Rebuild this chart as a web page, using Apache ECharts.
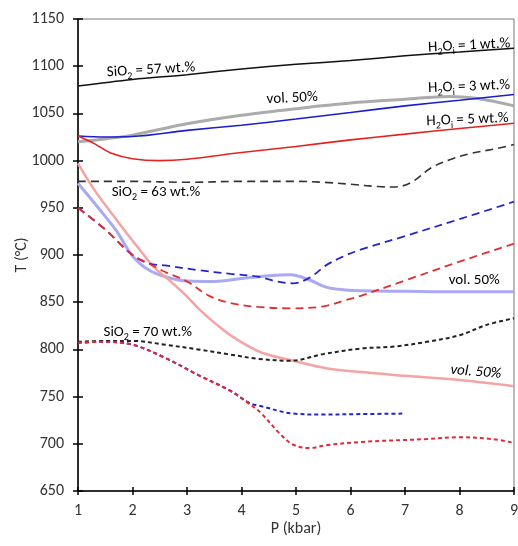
<!DOCTYPE html>
<html>
<head>
<meta charset="utf-8">
<script src="https://cdn.jsdelivr.net/npm/echarts@6/dist/echarts.min.js"></script>
<style>
  html, body { margin: 0; padding: 0; background: #fff; }
  #main { width: 518px; height: 546px; }
</style>
</head>
<body>
<div id="main"></div>
<script>
// P (kbar) vs T (°C)
var h2o1 = [[1,1079],[2,1086],[3,1091],[4,1097],[5,1102],[6,1106],[7,1111],[8,1115],[9,1119]];
var gray50 = [[1,1020],[1.5,1023],[2,1027],[3,1039],[4,1048],[5,1055],[6,1061],[7,1065],[7.8,1068],[8.3,1066],[9,1058]];
var h2o3 = [[1,1026],[1.5,1025],[2,1025.5],[3,1032],[4,1037.5],[5,1044],[6,1051],[7,1058],[8,1064],[9,1070]];
var h2o5 = [[1,1026],[1.3,1018],[1.6,1008],[2,1002],[2.5,1000],[3,1001.5],[4,1008.5],[5,1015],[6,1022],[7,1028],[8,1034],[9,1039.5]];
var sio63 = [[1,978],[2,978],[3,977],[4,978],[5,978],[5.5,977],[6,975],[6.5,972.5],[6.8,972],[7.1,976.5],[7.5,993],[7.9,1002.5],[8.2,1007.5],[8.7,1013],[9,1017]];
var blue50 = [[1,976],[1.4,948],[1.7,926],[2,899],[2.3,884],[2.6,877],[3,872.5],[3.5,872],[4,875],[4.5,878],[4.9,879],[5.25,873.5],[5.55,866],[5.9,863],[6.2,862],[7,861.5],[8,861],[9,861]];
var red50 = [[1,997],[1.3,969],[1.75,934],[2.1,908],[2.4,887],[2.7,872],[3,856],[3.25,841],[3.55,826],[3.85,813],[4.35,797],[4.95,788],[5.55,780],[6.2,776],[6.8,773],[8,767.5],[9,761]];
var blueDash = [[1,950],[1.5,927],[2,900],[2.3,891],[2.6,889],[3.2,884],[3.8,880],[4.3,877],[4.65,872],[4.95,870],[5.25,876],[5.55,889],[5.85,898],[6.2,906],[7,920],[8,938],[9,956.5]];
var redDash = [[1,950],[1.5,927],[2,900],[2.3,891],[2.6,882],[3,872],[3.4,857],[3.8,849],[4.3,845],[4.9,843.5],[5.5,845.5],[5.9,852],[6.2,857],[7,873],[8,893],[9,912]];
var sio70 = [[1,808],[1.5,809],[2,809],[2.6,805],[3.2,800],[3.8,794.5],[4.3,790],[4.9,788],[5.5,795],[6.2,801],[6.8,803],[7.4,808],[8,815],[8.5,826],[9,833]];
var blueDot = [[1,807],[1.4,808],[2,805],[2.6,791],[3.2,773],[3.8,756],[4.15,743],[4.35,740],[4.95,732],[5.5,731],[6.2,731.5],[6.95,732]];
var redDot = [[1,807],[1.4,808],[2,805],[2.6,791],[3.2,773],[3.8,756],[4.15,742],[4.35,733],[4.7,711],[4.95,699],[5.25,695.5],[5.55,698.5],[6.2,702],[7.4,705],[8,707],[8.6,705],[9,701]];

// pick a narrow font if one is installed
function hasFont(f) {
    var c = document.createElement('canvas').getContext('2d');
    c.font = '20px monospace';
    var a = c.measureText('abcmwi1150%').width;
    c.font = '20px "' + f + '", monospace';
    return c.measureText('abcmwi1150%').width !== a;
}
var FONT, AX, TX;
if (hasFont('Carlito')) { FONT = 'Carlito, sans-serif'; AX = 16; TX = 15; }
else if (hasFont('Liberation Sans Narrow')) { FONT = '"Liberation Sans Narrow", sans-serif'; AX = 16; TX = 15; }
else { FONT = 'Roboto, sans-serif'; AX = 14; TX = 13; }

var dom = document.getElementById('main');
var chart = echarts.init(dom, null, { renderer: 'canvas' });

function line(data, color, width, type, z) {
    return {
        type: 'line',
        data: data,
        smooth: 0.35,
        symbol: 'none',
        z: z || 2,
        lineStyle: { color: color, width: width, type: type || 'solid' }
    };
}

var option = {
    animation: false,
    grid: {
        left: 78, right: 4, top: 19, bottom: 55,
        outerBoundsMode: 'none', containLabel: false,
        show: true, borderColor: '#777', borderWidth: 1
    },
    xAxis: [{
        type: 'value', min: 1, max: 9, interval: 1, position: 'bottom',
        name: 'P (kbar)', nameLocation: 'middle', nameGap: 30, nameMoveOverlap: false,
        nameTextStyle: { color: '#333', fontSize: AX, fontFamily: FONT },
        axisLine: { show: true, lineStyle: { color: '#000', width: 1.5 } },
        axisTick: { show: true, length: 4, lineStyle: { color: '#000', width: 1.5 } },
        axisLabel: { color: '#333', fontSize: AX, fontFamily: FONT, margin: 12 },
        splitLine: { show: false }
    }, {
        type: 'value', min: 1, max: 9, interval: 1, position: 'bottom',
        axisLine: { show: false },
        axisTick: { show: true, inside: true, length: 4, lineStyle: { color: '#000', width: 1.5 } },
        axisLabel: { show: false },
        splitLine: { show: false }
    }],
    yAxis: [{
        type: 'value', min: 650, max: 1150, interval: 50, position: 'left',
        name: 'T (°C)', nameLocation: 'middle', nameGap: 48, nameRotate: 90, nameMoveOverlap: false,
        nameTextStyle: { color: '#333', fontSize: AX, fontFamily: FONT },
        axisLine: { show: true, lineStyle: { color: '#000', width: 1.5 } },
        axisTick: { show: true, length: 5, lineStyle: { color: '#000', width: 1.5 } },
        axisLabel: { color: '#333', fontSize: AX, fontFamily: FONT, margin: 14,
                     formatter: function (v) { return String(v); } },
        splitLine: { show: false }
    }, {
        type: 'value', min: 650, max: 1150, interval: 50, position: 'left',
        axisLine: { show: false },
        axisTick: { show: true, inside: true, length: 5, lineStyle: { color: '#000', width: 1.5 } },
        axisLabel: { show: false },
        splitLine: { show: false }
    }],
    series: [
        line(gray50, '#ababab', 3),
        line(blue50, '#aaaaf2', 3),
        line(red50, '#f5a3a3', 2.5),
        line(h2o1, '#111', 1.5, 'solid', 3),
        line(h2o3, '#1c1cd0', 1.6, 'solid', 3),
        line(h2o5, '#e52222', 1.6, 'solid', 3),
        line(sio63, '#333', 1.6, [8, 5], 3),
        line(blueDash, '#2424cc', 1.8, [8, 5], 3),
        line(redDash, '#e23030', 1.8, [8, 5], 4),
        line(sio70, '#222', 2, [4, 3], 3),
        line(blueDot, '#2424cc', 2, [4, 3], 3),
        line(redDot, '#e02a3a', 2, [4, 3], 4)
    ]
};
chart.setOption(option);

// text annotations placed in data coordinates
var sub = function (c) { return { fontSize: Math.round(TX * 0.65), color: c, fontFamily: FONT, verticalAlign: 'bottom', lineHeight: 20 }; };
var nrm = function (c, italic) { return { fontSize: TX, color: c, fontFamily: FONT, lineHeight: 18, fontStyle: italic ? 'italic' : 'normal' }; };
var labels = [
    { at: [2.34, 1096], text: '{n|SiO}{s|2}{n| = 57 wt.%}', color: '#333', align: 'center', rot: 0.06 },
    { at: [8.93, 1124], text: '{n|H}{s|2}{n|O}{s|i}{n| = 1 wt.%}', color: '#222', align: 'right', rot: 0.05 },
    { at: [4.93, 1066], text: '{n|vol. 50%}', color: '#444', align: 'center', rot: 0.05 },
    { at: [8.93, 1080], text: '{n|H}{s|2}{n|O}{s|i}{n| = 3 wt.%}', color: '#2a2ad8', align: 'right', rot: 0.04 },
    { at: [8.9, 1045], text: '{n|H}{s|2}{n|O}{s|i}{n| = 5 wt.%}', color: '#e52222', align: 'right', rot: 0.04 },
    { at: [2.43, 966], text: '{n|SiO}{s|2}{n| = 63 wt.%}', color: '#333', align: 'center', rot: 0 },
    { at: [8.27, 873], text: '{n|vol. 50%}', color: '#4a4ad8', align: 'center', rot: 0 },
    { at: [2.28, 818], text: '{n|SiO}{s|2}{n| = 70 wt.%}', color: '#333', align: 'center', rot: 0 },
    { at: [8.3, 776], text: '{i|vol. 50%}', color: '#e53a3a', align: 'center', rot: -0.08 }
];
var graphics = labels.map(function (l) {
    var p = chart.convertToPixel({ gridIndex: 0 }, l.at);
    return {
        type: 'text', x: p[0], y: p[1], rotation: l.rot, z: 10,
        style: {
            text: l.text, align: l.align, verticalAlign: 'middle',
            rich: { n: nrm(l.color), i: nrm(l.color, true), s: sub(l.color) }
        }
    };
});
chart.setOption({ graphic: graphics });
</script>
</body>
</html>
